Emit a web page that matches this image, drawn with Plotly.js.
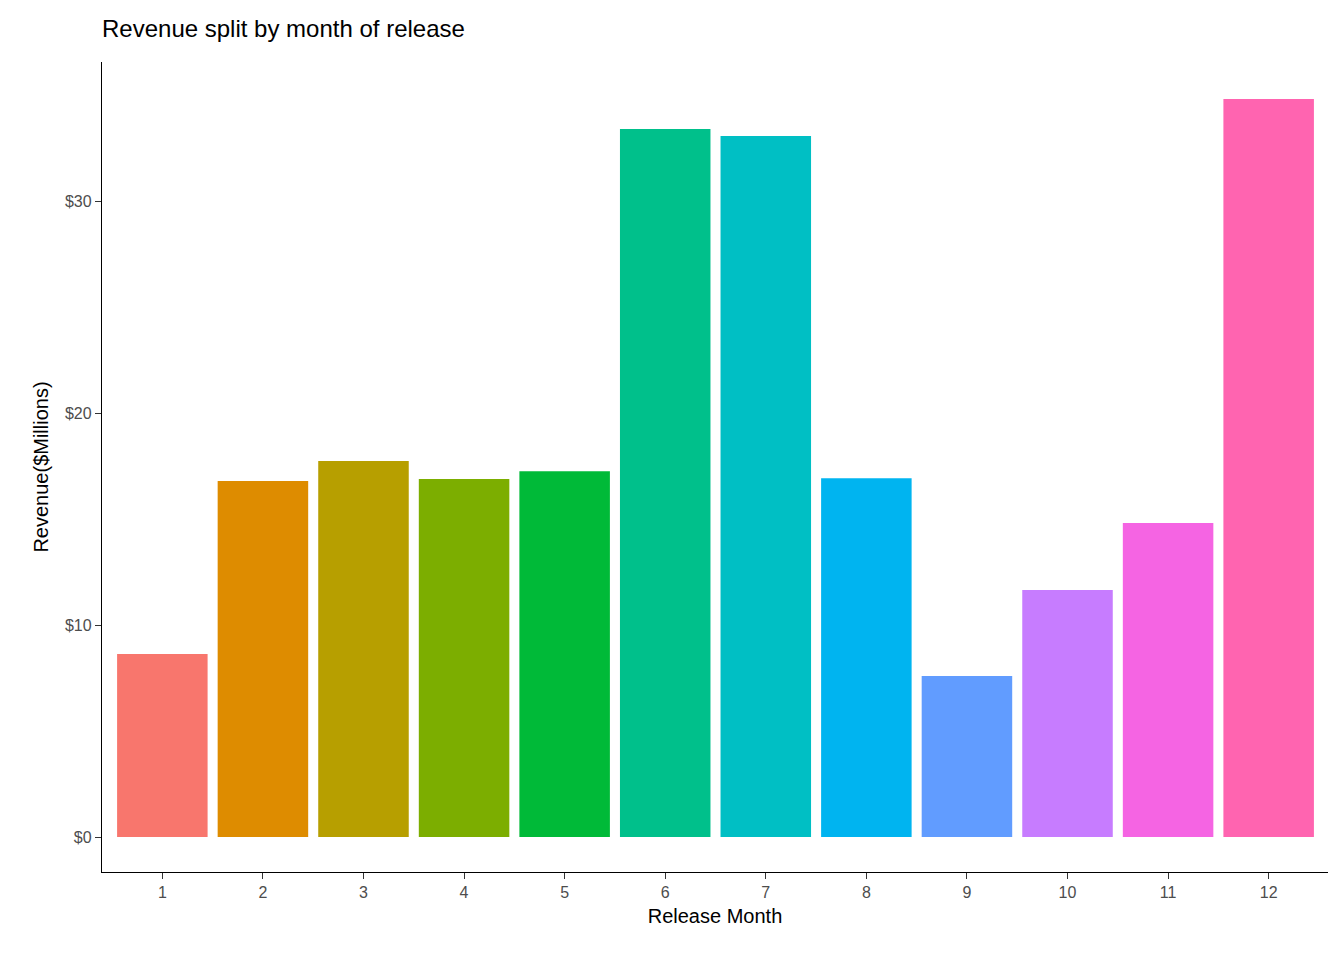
<!DOCTYPE html>
<html><head><script src="https://cdn.plot.ly/plotly-3.0.1.min.js"></script>
<style>body{margin:0}</style></head><body>
<div id="c" style="width:1344px;height:960px"></div>
<script>
const months = [1,2,3,4,5,6,7,8,9,10,11,12];
const revenue = [8.63,16.79,17.74,16.89,17.26,33.40,33.07,16.93,7.59,11.65,14.81,34.81];
const colors = ["#F8766D","#DE8C00","#B79F00","#7CAE00","#00BA38","#00C08B","#00BFC4","#00B4F0","#619CFF","#C77CFF","#F564E3","#FF64B0"];
const font = "Liberation Sans, Arial, sans-serif";
Plotly.newPlot("c", [{
  type: "bar", x: months, y: revenue, width: 0.9,
  marker: {color: colors}, hoverinfo: "x+y"
}], {
  width: 1344, height: 960,
  margin: {l: 102, r: 16, t: 62, b: 88},
  paper_bgcolor: "white", plot_bgcolor: "white",
  showlegend: false,
  font: {family: font},
  title: {text: "Revenue split by month of release", x: 0, xref: "paper", xanchor: "left", y: 0.97, yanchor: "middle", font: {size: 24, color: "#000"}},
  xaxis: {range: [0.4, 12.59], tickvals: months, ticktext: months.map(String), showgrid: false, zeroline: false,
    showline: true, linecolor: "#000", linewidth: 1.3, ticks: "outside", ticklen: 6, tickcolor: "#333",
    tickfont: {size: 16, color: "#4D4D4D"},
    title: {text: "Release Month", font: {size: 20, color: "#000"}, standoff: 8}},
  yaxis: {range: [-1.65, 36.56], tickvals: [0,10,20,30], ticktext: ["$0","$10","$20","$30"], showgrid: false, zeroline: false,
    showline: true, linecolor: "#000", linewidth: 1.3, ticks: "outside", ticklen: 6, tickcolor: "#333",
    tickfont: {size: 16, color: "#4D4D4D"},
    title: {text: "Revenue($Millions)", font: {size: 20, color: "#000"}, standoff: 10}}
}, {displayModeBar: false});
</script></body></html>
